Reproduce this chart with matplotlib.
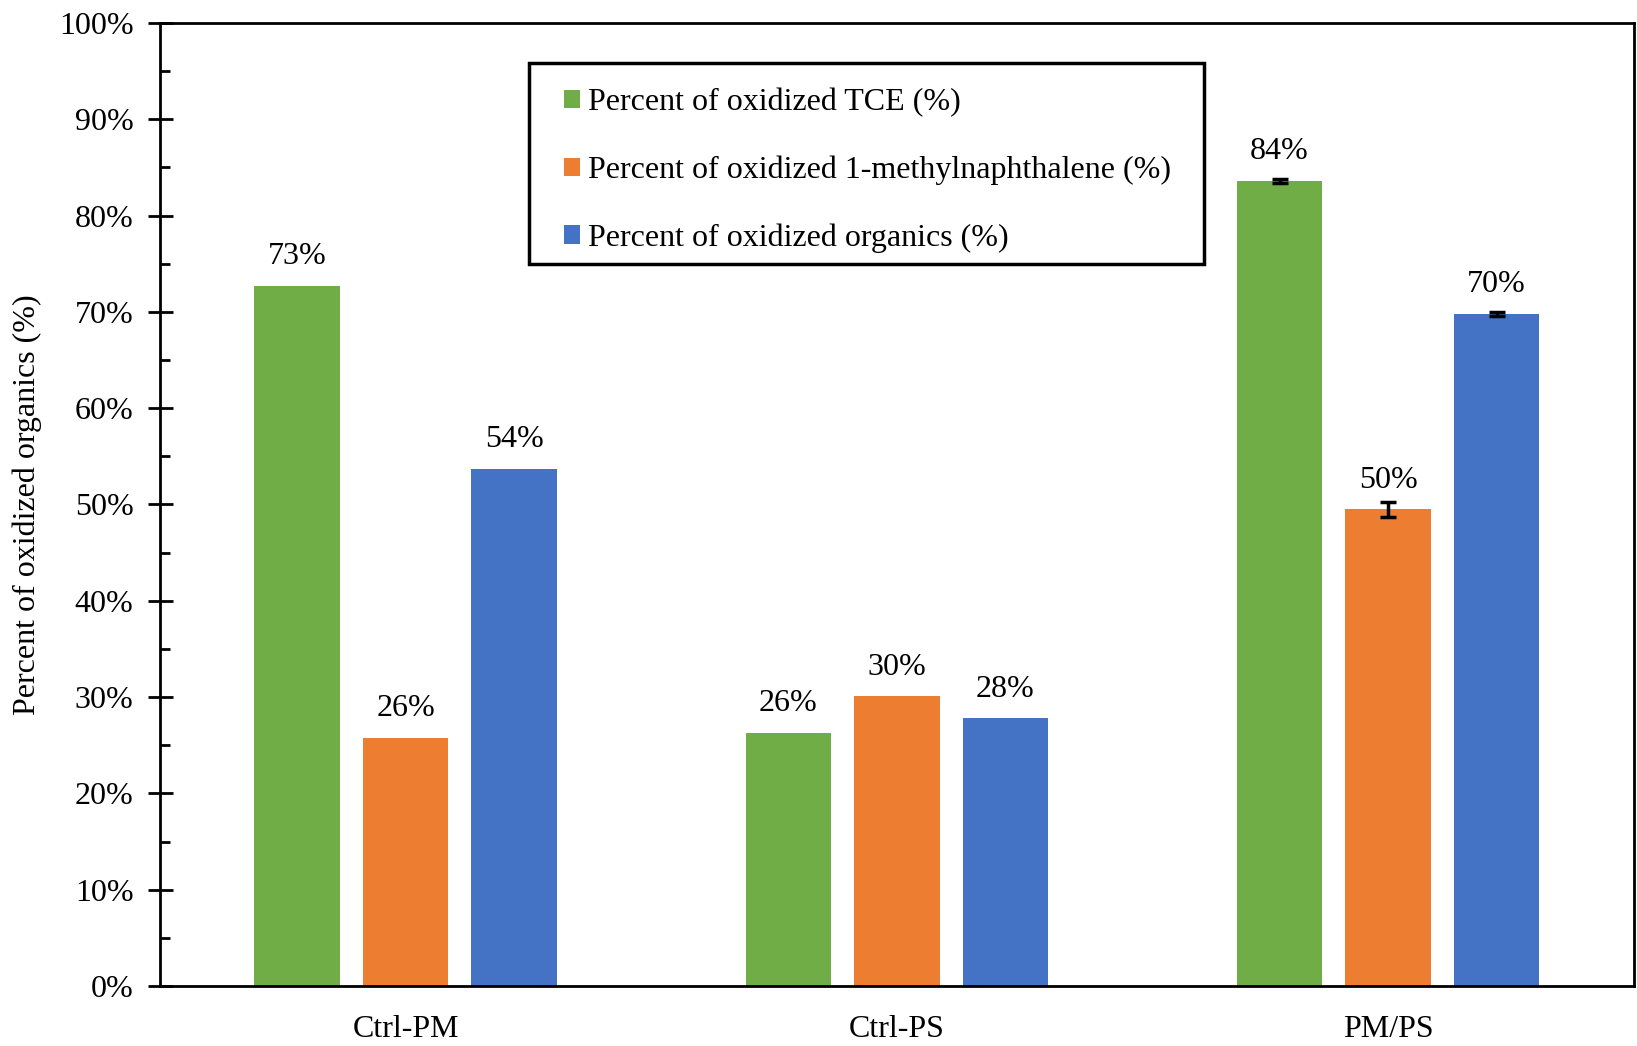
import matplotlib.pyplot as plt
import numpy as np
from matplotlib.patches import Rectangle
from matplotlib.ticker import MultipleLocator, PercentFormatter

# data
groups = ["Ctrl-PM", "Ctrl-PS", "PM/PS"]
series_names = ["Percent of oxidized TCE (%)",
                "Percent of oxidized 1-methylnaphthalene (%)",
                "Percent of oxidized organics (%)"]
tce = [72.7, 26.3, 83.6]
methylnaph = [25.8, 30.1, 49.5]
organics = [53.7, 27.8, 69.8]
tce_err = [0, 0, 0.2]
methylnaph_err = [0, 0, 0.8]
organics_err = [0, 0, 0.2]
labels_tce = ["73%", "26%", "84%"]
labels_methylnaph = ["26%", "30%", "50%"]
labels_organics = ["54%", "28%", "70%"]

colors = ["#70AD47", "#ED7D31", "#4472C4"]

plt.rcParams['font.family'] = ['Liberation Serif', 'DejaVu Serif']
fig = plt.figure(figsize=(16.37, 10.46), dpi=100)
ax = fig.add_axes([0.0977, 0.0574, 0.9003, 0.9206])

x = np.arange(len(groups))
width = 0.174
step = 0.221
all_vals = [tce, methylnaph, organics]
all_errs = [tce_err, methylnaph_err, organics_err]
all_labels = [labels_tce, labels_methylnaph, labels_organics]

for i in range(3):
    pos = x + (i - 1) * step
    errs = np.array(all_errs[i])
    ax.bar(pos, all_vals[i], width, color=colors[i], label=series_names[i])
    has_err = errs > 0
    ax.errorbar(pos[has_err], np.array(all_vals[i])[has_err], yerr=errs[has_err],
                fmt='none', ecolor='black', elinewidth=2.5, capsize=6, capthick=2.5)
    for p, v, t in zip(pos, all_vals[i], all_labels[i]):
        ax.text(p, v + 1.5, t, ha='center', va='bottom', fontsize=23)

ax.set_xlim(-0.5, 2.5)
ax.set_ylim(0, 100)
ax.set_xticks(x)
ax.set_xticklabels(groups, fontsize=23)
ax.tick_params(axis='x', length=0, pad=21)
ax.yaxis.set_major_locator(MultipleLocator(10))
ax.yaxis.set_minor_locator(MultipleLocator(5))
ax.yaxis.set_major_formatter(PercentFormatter(decimals=0))
ax.tick_params(axis='y', which='major', direction='inout', length=18, width=2, labelsize=23, pad=10)
ax.tick_params(axis='y', which='minor', direction='in', length=7, width=2)
ax.set_ylabel("Percent of oxidized organics (%)", fontsize=23, labelpad=12)
for s in ax.spines.values():
    s.set_linewidth(2)

# legend frame drawn separately so the padding matches
ax.add_patch(Rectangle((0.2503, 0.7497), 0.458, 0.2092, transform=ax.transAxes,
                       fill=False, edgecolor='black', linewidth=2.5, zorder=5))
ax.legend(loc='center left', bbox_to_anchor=(0.2745, 0.847), fontsize=23,
          frameon=False, handlelength=0.5, handleheight=0.5, handletextpad=0.25,
          labelspacing=1.2, borderpad=0, borderaxespad=0)

plt.savefig("out.png", dpi=100)
